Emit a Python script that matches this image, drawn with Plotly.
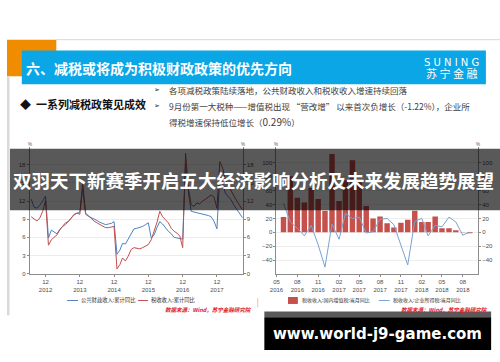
import plotly.graph_objects as go
import pandas as pd

W, H = 500, 362
def fx(x):
    return x / W
def fy(y):
    return 1 - y / H

CJK = "Noto Sans CJK SC"
TICKF = dict(family="Liberation Sans", size=6, color="#4d4d4d")

# ---------------- Left chart: cumulative YoY (%) ----------------
left_months = pd.date_range("2012-07-01", "2018-09-01", freq="MS").strftime("%Y-%m-%d").tolist()
fiscal_yoy = [
    12.3, 11.0, 10.8, 11.3, 12.0, 12.8,
    5.9, 7.2, 6.9, 6.6, 7.3, 7.8, 8.1, 8.6, 9.2, 9.7, 10.0, 10.1,
    14.0, 9.8, 9.5, 9.3, 9.0, 8.8, 8.5, 8.3, 8.1, 8.2, 8.3, 8.6,
    3.2, 3.9, 5.0, 4.9, 5.8, 6.7, 7.4, 7.5, 7.6, 7.8, 8.1, 8.4,
    5.9, 6.4, 7.6, 8.6, 8.2, 7.6, 7.0, 6.6, 6.0, 5.9, 5.8, 5.7,
    18.2, 13.3, 10.3, 10.2, 10.0, 9.9, 9.8, 9.7, 9.6, 9.4, 8.6, 7.4,
    16.5, 15.0, 13.3, 12.7, 12.2, 11.3, 10.6, 9.9, 9.2,
]
tax_yoy = [
    9.4, 9.0, 8.7, 9.2, 10.3, 12.1,
    4.7, 5.6, 6.0, 6.4, 7.2, 7.8, 8.4, 8.6, 9.3, 9.8, 10.0, 9.8,
    15.0, 10.0, 9.6, 9.1, 8.7, 8.4, 8.1, 7.8, 7.6, 7.6, 7.7, 7.8,
    0.8, 1.5, 2.6, 2.1, 2.9, 4.0, 4.3, 4.2, 4.1, 4.3, 4.6, 4.8,
    5.6, 7.0, 8.4, 10.3, 9.4, 8.9, 8.4, 7.5, 7.0, 6.7, 6.2, 4.3,
    19.9, 14.0, 11.4, 11.1, 11.7, 11.5, 12.0, 12.3, 12.6, 13.0, 12.6, 10.8,
    18.5, 17.4, 15.5, 14.5, 13.6, 12.8, 12.0, 11.2, 10.5,
]
left_tick_vals = ["2012-12-01", "2013-12-01", "2014-12-01", "2015-12-01", "2016-12-01", "2017-12-01"]
left_tick_text = ["12<br>2012", "12<br>2013", "12<br>2014", "12<br>2015", "12<br>2016", "12<br>2017"]
left_y_ticks = [0, 3, 6, 9, 12, 15, 18]

# ---------------- Right chart: monthly YoY (%) ----------------
right_months = pd.date_range("2016-06-01", "2018-09-01", freq="MS").strftime("%Y-%m-%d").tolist()
vat_yoy = [22, 81, 50, 43, 64, 48, 31, 113, 45, 75, 104, 72, 38, 20, 23, 13, 7, 14,
           18, 31, 15, 15, 23, 6, 6, 3, 0.5, -1.22]
cit_yoy = [42, 15, 6, -5, 10, -18, -50, 12, -10, 27, 20, 22, -1, 1, 19, 20, 11, -18,
           -47, 16, 20, -5, 10, 8, 22, 15, -4, 0.29]
right_tick_vals = ["2016-05-01", "2016-08-01", "2016-11-01", "2017-02-01", "2017-05-01",
                   "2017-08-01", "2017-11-01", "2018-02-01", "2018-05-01", "2018-08-01"]
right_tick_text = ["05<br>2016", "08<br>2016", "11<br>2016", "02<br>2017", "05<br>2017",
                   "08<br>2017", "11<br>2017", "02<br>2018", "05<br>2018", "08<br>2018"]
right_y_ticks = [-40, -20, 0, 20, 40, 60, 80, 100]

BLUE_L = "#4f81bd"
RED_L = "#c0504d"
BAR_C = "#c5504c"
BLUE_R = "#7aa3d2"

fig = go.Figure()
fig.add_trace(go.Scatter(x=left_months, y=fiscal_yoy, mode="lines", xaxis="x", yaxis="y",
                         line=dict(color=BLUE_L, width=1), showlegend=False, hoverinfo="skip"))
fig.add_trace(go.Scatter(x=left_months, y=tax_yoy, mode="lines", xaxis="x", yaxis="y",
                         line=dict(color=RED_L, width=1), showlegend=False, hoverinfo="skip"))
fig.add_trace(go.Scatter(x=[left_months[0]], y=[None], xaxis="x", yaxis="y2",
                         showlegend=False, hoverinfo="skip"))
fig.add_trace(go.Bar(x=right_months, y=vat_yoy, xaxis="x2", yaxis="y3",
                     marker=dict(color=BAR_C, line=dict(width=0)),
                     width=[24 * 86400000] * len(right_months), showlegend=False, hoverinfo="skip"))
fig.add_trace(go.Scatter(x=right_months, y=cit_yoy, mode="lines", xaxis="x2", yaxis="y3",
                         line=dict(color=BLUE_R, width=1), showlegend=False, hoverinfo="skip"))
fig.add_trace(go.Scatter(x=[right_months[0]], y=[None], xaxis="x2", yaxis="y4",
                         showlegend=False, hoverinfo="skip"))

axis_common = dict(showline=True, linecolor="#8c8c8c", linewidth=1, ticks="outside",
                   tickcolor="#8c8c8c", ticklen=2, tickfont=TICKF, zeroline=False)

left_dom_y = [fy(276), fy(148.3)]
right_dom_y = [fy(276.3), fy(148.2)]

fig.update_layout(
    width=W, height=362,
    margin=dict(l=0, r=0, t=0, b=0),
    paper_bgcolor="white", plot_bgcolor="white",
    hovermode=False,
    xaxis=dict(domain=[fx(23), fx(239)], anchor="y", type="date",
               range=["2012-06-15", "2018-09-01"], tickvals=left_tick_vals, ticktext=left_tick_text,
               showgrid=False, **axis_common),
    yaxis=dict(domain=left_dom_y, anchor="x", range=[0, 20.9], tickvals=left_y_ticks,
               showgrid=True, gridcolor="#ededed", gridwidth=1, **axis_common),
    yaxis2=dict(overlaying="y", side="right", anchor="x", range=[0, 20.9], tickvals=left_y_ticks,
                showgrid=False, **axis_common),
    xaxis2=dict(domain=[fx(273.3), fx(477.7)], anchor="y3", type="date",
                range=["2016-05-01", "2018-10-07"], tickvals=right_tick_vals, ticktext=right_tick_text,
                showgrid=False, **axis_common),
    yaxis3=dict(domain=right_dom_y, anchor="x2", range=[-60, 123], tickvals=right_y_ticks,
                showgrid=True, gridcolor="#ededed", gridwidth=1, **axis_common),
    yaxis4=dict(overlaying="y3", side="right", anchor="x2", range=[-60, 123], tickvals=right_y_ticks,
                showgrid=False, **axis_common),
)

def rect(x0, y0, x1, y1, color, layer="above"):
    return dict(type="rect", xref="paper", yref="paper", x0=fx(x0), x1=fx(x1), y0=fy(y1), y1=fy(y0),
                fillcolor=color, line=dict(width=0), layer=layer)

def hline(x0, x1, y, color, w=1.2):
    return dict(type="line", xref="paper", yref="paper", x0=fx(x0), x1=fx(x1), y0=fy(y), y1=fy(y),
                line=dict(color=color, width=w))

shapes = [
    hline(50, 500, 40, "#d9d9d9", 1),
    rect(0, 40, 50, 77, "#f08c00"),
    rect(15, 51, 485.7, 85, "#0aa6e6"),
    rect(0, 77, 2.5, 318, "#d9d9d9"),
    # legend symbols
    hline(61, 72, 303, BLUE_L, 1),
    hline(133, 143, 303, RED_L, 1),
    rect(285, 299.5, 295, 306.5, BAR_C),
    hline(377, 388, 303, BLUE_R, 1),
    dict(type="line", xref="paper", yref="paper", x0=fx(254.3), x1=fx(254.3), y0=fy(310), y1=fy(300.5),
         line=dict(color="#f4c48a", width=1)),
    # overlays
    rect(3, 150, 500, 212, "rgba(0,0,0,0.65)"),
    rect(261, 314, 491, 320, "rgba(0,0,0,0.65)"),
    rect(261, 320, 491, 353, "#000000"),
]
fig.update_layout(shapes=shapes)

def ann(x, y, text, size, color="#333333", xanchor="left", family=CJK, yanchor="middle"):
    return dict(x=fx(x), y=fy(y), xref="paper", yref="paper", text=text, showarrow=False,
                xanchor=xanchor, yanchor=yanchor, font=dict(family=family, size=size, color=color))

annotations = [
    ann(17, 69, "<b>六、减税或将成为积极财政政策的优先方向</b>", 14, "white"),
    ann(450.5, 63, "S U N I N G", 10, "white", "center", "DejaVu Sans"),
    ann(450.5, 74, "苏 宁 金 融", 11, "white", "center"),
    ann(11, 104.5, "<b>◆  一系列减税政策见成效</b>", 11, "#111111"),
    ann(147, 91, "➢", 7, "#222222", "left", "DejaVu Sans"),
    ann(147, 107, "➢", 7, "#222222", "left", "DejaVu Sans"),
    ann(162, 91, "各项减税政策陆续落地，公共财政收入和税收收入增速持续回落", 8.5, "#404040"),
    ann(162, 107, "9月份第一大税种——增值税出现 “营改增” 以来首次负增长（-1.22%），企业所", 8.5, "#404040"),
    ann(162, 123, "得税增速保持低位增长（<span style=\"font-size:10px\">0.29%</span>）", 8.5, "#404040"),
    # % units
    ann(23, 146, "%", 4.5, "#555555", "center", "Liberation Sans"),
    ann(239, 146, "%", 4.5, "#555555", "center", "Liberation Sans"),
    ann(273.3, 146, "%", 4.5, "#555555", "center", "Liberation Sans"),
    ann(477.7, 146, "%", 4.5, "#555555", "center", "Liberation Sans"),
    # legends
    ann(73, 303, "公共财政收入:累计同比", 5.3, "#333333"),
    ann(144, 303, "税收收入:累计同比", 5.3, "#333333"),
    ann(297, 303, "税收收入:国内增值税:当月同比", 5.0, "#333333"),
    ann(389, 303, "税收收入:企业所得税:当月同比", 5.0, "#333333"),
    ann(250, 312.5, "<i><b>数据来源：Wind，苏宁金融研究院</b></i>", 5.5, "#e0141e", "right"),
    ann(490, 312.5, "<i><b>数据来源：Wind，苏宁金融研究院</b></i>", 5.5, "#e0141e", "right"),
    # banner text
    ann(250, 181, "<b>双羽天下新赛季开启五大经济影响分析及未来发展趋势展望</b>", 18.5, "white", "center"),
    ann(376, 337, "<b>www.world-j9-game.com</b>", 15, "white", "center", "DejaVu Sans"),
]
fig.update_layout(annotations=annotations)

fig.write_html("out.html", config={"displayModeBar": False, "staticPlot": True},
               post_script="document.body.style.margin='0px';document.body.style.padding='0px';")
